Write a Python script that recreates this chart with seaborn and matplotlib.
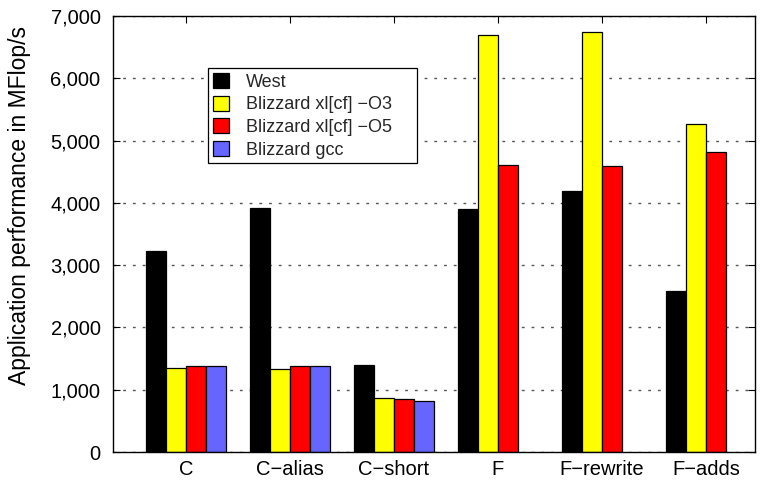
import numpy as np
import pandas as pd
import matplotlib
matplotlib.use("Agg")
import matplotlib.pyplot as plt
from matplotlib.ticker import FuncFormatter, MultipleLocator
import seaborn as sns

# Benchmark variants and measured performance (MFlop/s)
codes = ["C", "C\u2212alias", "C\u2212short", "F", "F\u2212rewrite", "F\u2212adds"]
west = [3230, 3910, 1400, 3905, 4190, 2580]
blizzard_o3 = [1350, 1335, 870, 6700, 6740, 5270]
blizzard_o5 = [1385, 1385, 855, 4610, 4585, 4810]
blizzard_gcc = [1375, 1385, 820, None, None, None]

series_names = ["West", "Blizzard xl[cf] \u2212O3", "Blizzard xl[cf] \u2212O5", "Blizzard gcc"]
series_colors = ["#000000", "#FFFF00", "#FF0000", "#6666FF"]

rows = []
for name, vals in zip(series_names, [west, blizzard_o3, blizzard_o5, blizzard_gcc]):
    for code, v in zip(codes, vals):
        rows.append({"code": code, "machine": name, "perf": v})
df = pd.DataFrame(rows).dropna()

sns.set_theme(style="white")
plt.rcParams["font.family"] = ["Liberation Sans", "DejaVu Sans"]

fig = plt.figure(figsize=(7.69, 4.84), dpi=100)
ax = fig.add_axes([113 / 769, 1 - 452 / 484, (755 - 113) / 769, (452 - 16) / 484])

sns.barplot(data=df, x="code", y="perf", hue="machine", order=codes,
            hue_order=series_names, palette=series_colors, width=0.77,
            edgecolor="black", linewidth=0.9, saturation=1, ax=ax, errorbar=None)

ax.set_ylim(0, 7000)
ax.set_xlim(-0.70, 5.47)
ax.yaxis.set_major_locator(MultipleLocator(1000))
ax.yaxis.set_major_formatter(FuncFormatter(lambda v, p: f"{int(v):,}"))
ax.set_axisbelow(True)
ax.yaxis.grid(True, linestyle=(0, (2, 5)), color="#555555", linewidth=1.0)
ax.xaxis.grid(False)

for s in ax.spines.values():
    s.set_visible(True)
    s.set_color("black")
    s.set_linewidth(1.0)

ax.tick_params(axis="both", which="both", direction="in", length=5, width=0.8,
               colors="black", labelsize=14.5, top=True, right=True, bottom=True, left=True)
ax.tick_params(axis="x", pad=6)
ax.tick_params(axis="y", pad=9)
ax.set_xlabel("")
ax.set_ylabel("Application performance in MFlop/s", fontsize=16.5, color="black")
ax.yaxis.set_label_coords(-0.128, 0.565)

leg = ax.legend(loc="upper left", bbox_to_anchor=(0.148, 0.88, 0.3255, 0.0),
                mode="expand", fontsize=13,
                frameon=True, fancybox=False, edgecolor="black", framealpha=1,
                handlelength=0.9, handleheight=0.9, handletextpad=0.95,
                labelspacing=0.28, borderpad=0.25, borderaxespad=0)
leg.get_frame().set_linewidth(0.9)

fig.savefig("out.png", dpi=100)
